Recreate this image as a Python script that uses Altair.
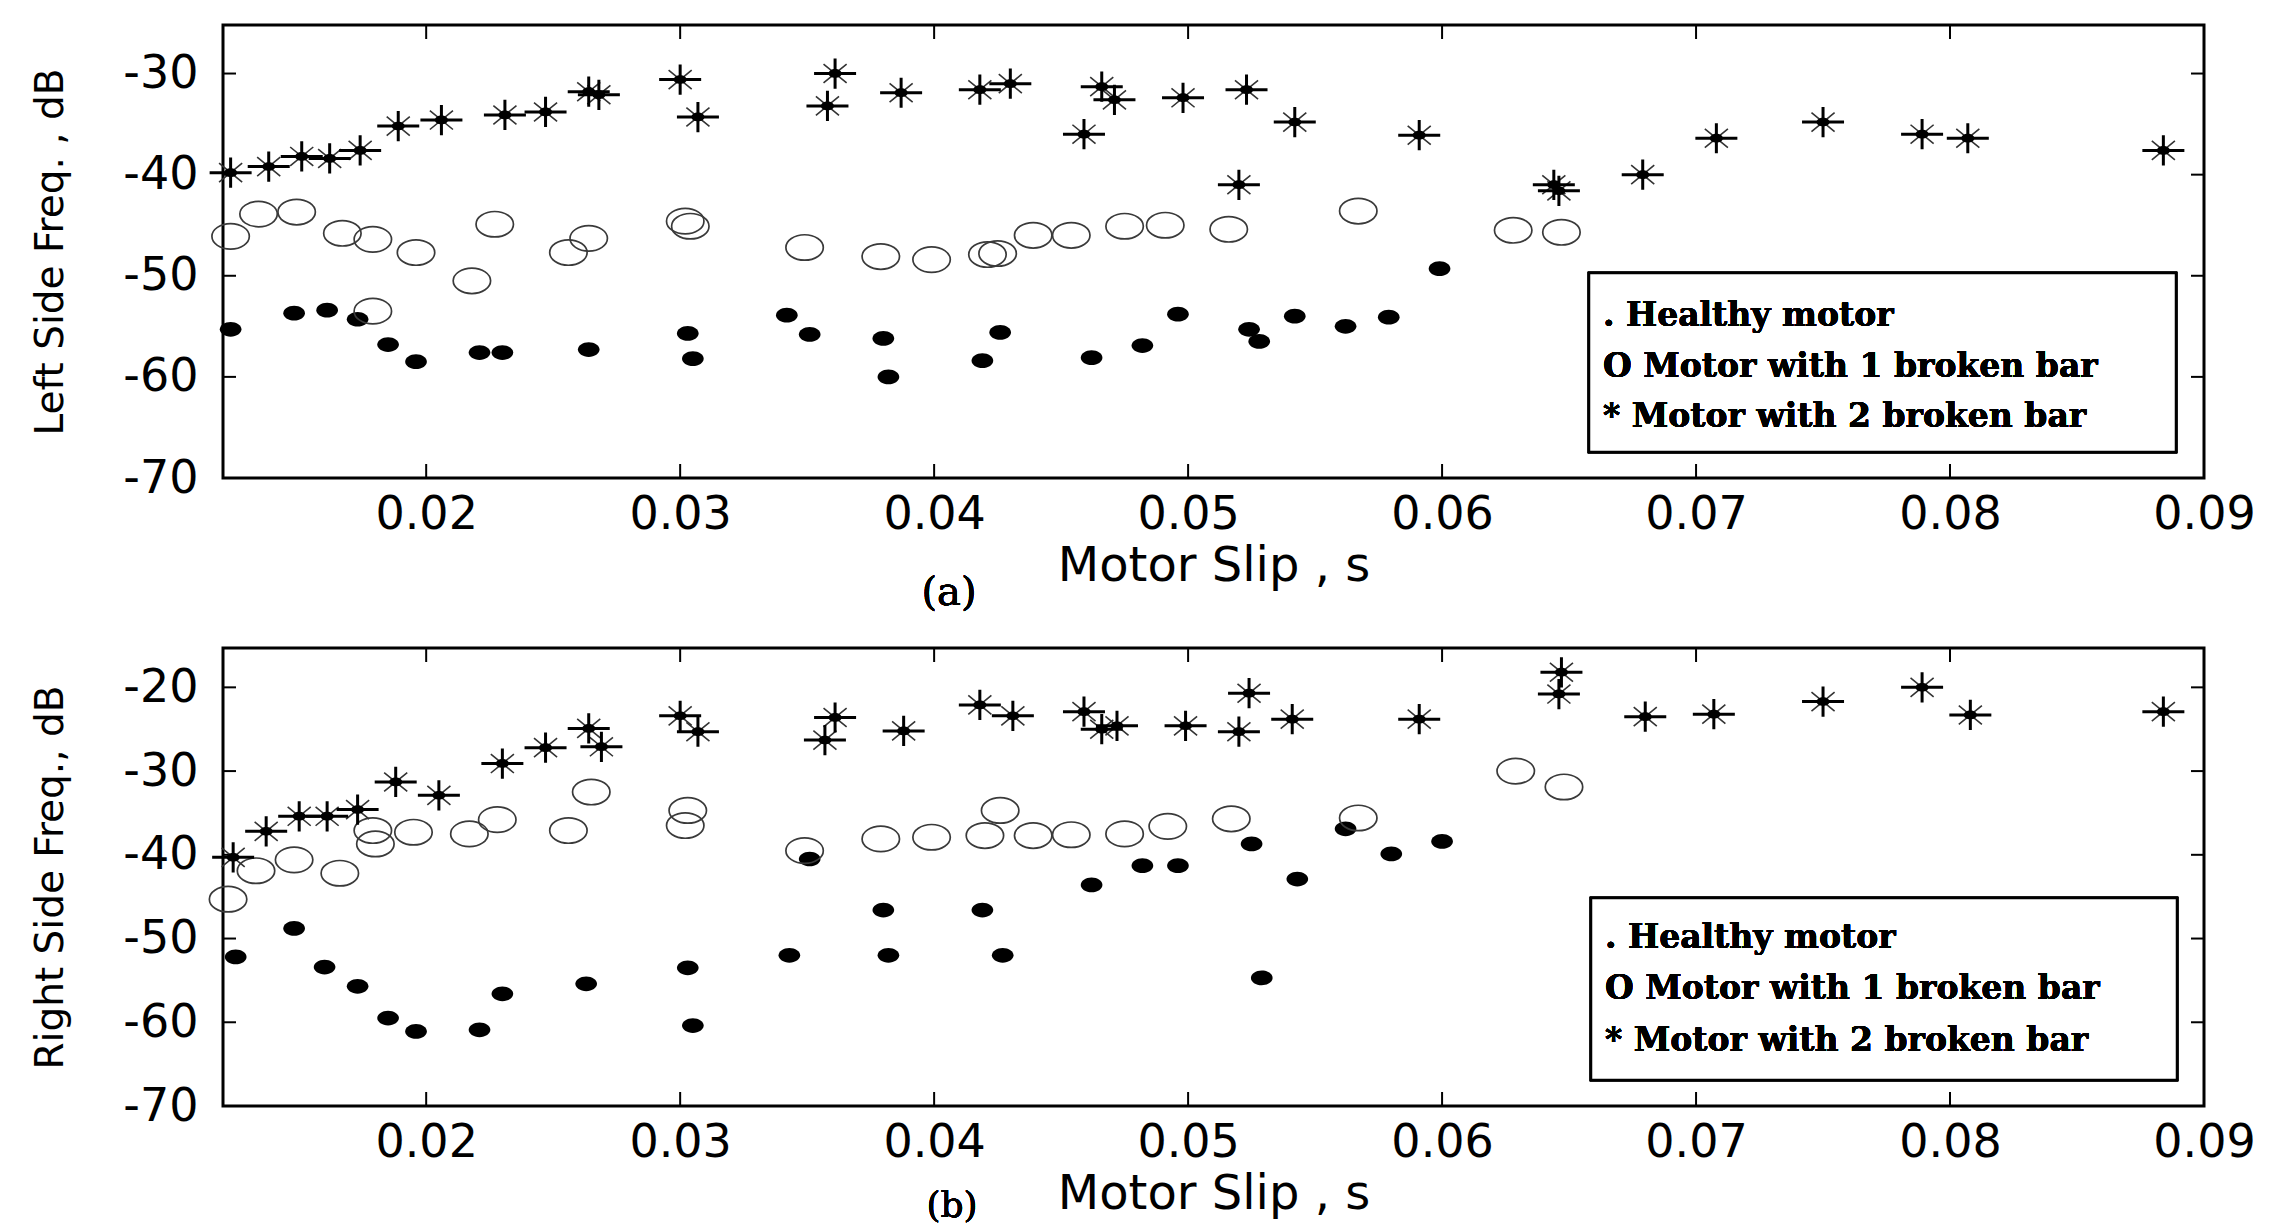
import altair as alt
import pandas as pd

# ---------------- data: panel (a) Left side frequency ----------------
a_healthy_slip = [0.0123, 0.0148, 0.0161, 0.0173, 0.0185, 0.0196, 0.0221, 0.0230, 0.0264,
                  0.0303, 0.0305, 0.0342, 0.0351, 0.0380, 0.0382, 0.0419, 0.0426, 0.0462,
                  0.0482, 0.0496, 0.0524, 0.0528, 0.0542, 0.0562, 0.0579, 0.0599]
a_healthy_db = [-55.3, -53.7, -53.4, -54.3, -56.8, -58.5, -57.6, -57.6, -57.3,
                -55.7, -58.2, -53.9, -55.8, -56.2, -60.0, -58.4, -55.6, -58.1,
                -56.9, -53.8, -55.3, -56.5, -54.0, -55.0, -54.1, -49.3]

a_one_slip = [0.0123, 0.0134, 0.0149, 0.0167, 0.0179, 0.0196, 0.0218, 0.0227, 0.0256,
              0.0264, 0.0179, 0.0302, 0.0304, 0.0349, 0.0379, 0.0399, 0.0421, 0.0425,
              0.0439, 0.0454, 0.0475, 0.0491, 0.0516, 0.0567, 0.0628, 0.0647]
a_one_db = [-46.1, -43.9, -43.7, -45.8, -46.4, -47.7, -50.5, -44.9, -47.7,
            -46.3, -53.5, -44.6, -45.1, -47.2, -48.1, -48.4, -47.9, -47.8,
            -46.0, -46.0, -45.1, -45.0, -45.4, -43.6, -45.5, -45.7]

a_two_slip = [0.0123, 0.0138, 0.0151, 0.0162, 0.0174, 0.0189, 0.0206, 0.0231, 0.0247,
              0.0264, 0.0268, 0.0300, 0.0307, 0.0358, 0.0361, 0.0387, 0.0418, 0.0430,
              0.0459, 0.0466, 0.0471, 0.0498, 0.0520, 0.0523, 0.0542, 0.0591, 0.0644,
              0.0646, 0.0679, 0.0708, 0.0750, 0.0789, 0.0807, 0.0884]
a_two_db = [-39.8, -39.2, -38.2, -38.4, -37.6, -35.2, -34.6, -34.1, -33.8,
            -31.8, -32.1, -30.6, -34.3, -33.2, -30.0, -31.9, -31.6, -31.0,
            -36.0, -31.3, -32.6, -32.4, -41.0, -31.6, -34.8, -36.1, -41.0,
            -41.6, -40.0, -36.4, -34.8, -36.0, -36.4, -37.6]

# ---------------- data: panel (b) Right side frequency ----------------
b_healthy_slip = [0.0125, 0.0148, 0.0160, 0.0173, 0.0185, 0.0196, 0.0221, 0.0230, 0.0263,
                  0.0303, 0.0305, 0.0343, 0.0351, 0.0380, 0.0382, 0.0419, 0.0427, 0.0462,
                  0.0482, 0.0496, 0.0525, 0.0529, 0.0543, 0.0562, 0.0580, 0.0600]
b_healthy_db = [-52.2, -48.8, -53.4, -55.7, -59.5, -61.1, -60.9, -56.6, -55.4,
                -53.5, -60.4, -52.0, -40.5, -46.6, -52.0, -46.6, -52.0, -43.6,
                -41.3, -41.3, -38.7, -54.7, -42.9, -36.9, -39.9, -38.4]

b_one_slip = [0.0122, 0.0133, 0.0148, 0.0166, 0.0179, 0.0180, 0.0195, 0.0217, 0.0228,
              0.0256, 0.0265, 0.0303, 0.0302, 0.0349, 0.0379, 0.0399, 0.0420, 0.0426,
              0.0439, 0.0454, 0.0475, 0.0492, 0.0517, 0.0567, 0.0629, 0.0648]
b_one_db = [-45.3, -41.9, -40.6, -42.2, -37.1, -38.7, -37.3, -37.5, -35.8,
            -37.1, -32.5, -34.7, -36.5, -39.5, -38.1, -37.9, -37.7, -34.7,
            -37.7, -37.6, -37.5, -36.6, -35.7, -35.6, -30.0, -31.9]

b_two_slip = [0.0124, 0.0137, 0.0150, 0.0161, 0.0173, 0.0188, 0.0205, 0.0230, 0.0247,
              0.0264, 0.0269, 0.0300, 0.0307, 0.0357, 0.0361, 0.0388, 0.0418, 0.0431,
              0.0459, 0.0466, 0.0472, 0.0499, 0.0520, 0.0524, 0.0541, 0.0591, 0.0646,
              0.0647, 0.0680, 0.0707, 0.0750, 0.0789, 0.0808, 0.0884]
b_two_db = [-40.3, -37.2, -35.4, -35.4, -34.6, -31.3, -32.9, -29.1, -27.2,
            -24.9, -27.1, -23.4, -25.3, -26.3, -23.6, -25.2, -22.1, -23.4,
            -22.9, -25.0, -24.6, -24.6, -25.3, -20.7, -23.8, -23.8, -20.8,
            -18.2, -23.5, -23.2, -21.7, -20.0, -23.3, -22.9]

# ---------------- axes / text ----------------
x_ticks = [0.02, 0.03, 0.04, 0.05, 0.06, 0.07, 0.08, 0.09]
a_y_ticks = [-30, -40, -50, -60, -70]
b_y_ticks = [-20, -30, -40, -50, -60, -70]
x_domain = [0.012, 0.09]
a_y_domain = [-70, -25.2]
b_y_domain = [-70, -15.3]
x_title = "Motor Slip , s"
a_y_title = "Left Side Freq. , dB"
b_y_title = "Right Side Freq., dB"
panel_labels = ["(a)", "(b)"]
legend_labels = [". Healthy motor", "O Motor with 1 broken bar", "* Motor with 2 broken bar"]

# ---------------- style ----------------
W = 1981
ELLIPSE = "M -1 0 A 1 0.68 0 1 0 1 0 A 1 0.68 0 1 0 -1 0 Z"
PLUS = "M -1 0 L 1 0 M 0 -0.72 L 0 0.72"
CROSS = "M -0.55 -0.45 L 0.55 0.45 M -0.55 0.45 L 0.55 -0.45"
SANS = "DejaVu Sans"
SERIF = "DejaVu Serif"


def panel(h, ydom, yticks, ytitle, healthy, one, two, label, box, text_x, text_ys, label_pos, label_size):
    x_enc = alt.X(
        "x:Q",
        scale=alt.Scale(domain=x_domain, nice=False, zero=False),
        axis=alt.Axis(values=x_ticks, format=".2f", title=x_title, ticks=False, domain=False,
                      grid=False, labelFont=SANS, labelFontSize=46, labelColor="black",
                      labelPadding=14, labelFlush=False, labelOverlap=False,
                      titleFont=SANS, titleFontSize=48, titleFontWeight="normal",
                      titleColor="black", titleY=88, titleBaseline="middle"),
    )
    y_enc = alt.Y(
        "y:Q",
        scale=alt.Scale(domain=ydom, nice=False, zero=False),
        axis=alt.Axis(values=yticks, labelExpr="'' + datum.value", title=ytitle, ticks=False,
                      domain=False, grid=False, labelFont=SANS, labelFontSize=46,
                      labelColor="black", labelPadding=25, labelFlush=False, labelOverlap=False,
                      titleFont=SANS, titleFontSize=39, titleFontWeight="normal",
                      titleColor="black", titleAngle=-90, titleX=-173, titleY=h / 2,
                      titleBaseline="middle", titleAlign="center"),
    )

    df_h = pd.DataFrame({"x": healthy[0], "y": healthy[1]})
    df_o = pd.DataFrame({"x": one[0], "y": one[1]})
    df_t = pd.DataFrame({"x": two[0], "y": two[1]})
    df_xt = pd.DataFrame({"x": x_ticks})
    df_yt = pd.DataFrame({"y": yticks})

    dots = alt.Chart(df_h).mark_point(shape=ELLIPSE, size=470, filled=True, color="black",
                                      opacity=1, strokeWidth=0).encode(x=x_enc, y=y_enc)
    rings = alt.Chart(df_o).mark_point(shape=ELLIPSE, size=1400, filled=False, color="#3a3a3a",
                                       opacity=1, strokeWidth=1.7).encode(x=x_enc, y=y_enc)
    star_plus = alt.Chart(df_t).mark_point(shape=PLUS, size=1764, filled=False, color="black",
                                           opacity=1, strokeWidth=3).encode(x=x_enc, y=y_enc)
    star_cross = alt.Chart(df_t).mark_point(shape=CROSS, size=1764, filled=False, color="#333333",
                                            opacity=1, strokeWidth=1.6).encode(x=x_enc, y=y_enc)
    star_core = alt.Chart(df_t).mark_point(shape=ELLIPSE, size=170, filled=True, color="black",
                                           opacity=1, strokeWidth=0).encode(x=x_enc, y=y_enc)

    tick_style = dict(color="black", strokeWidth=2)
    xt_bot = alt.Chart(df_xt).mark_rule(**tick_style).encode(
        x=x_enc, y=alt.value(h), y2=alt.value(h - 14))
    xt_top = alt.Chart(df_xt).mark_rule(**tick_style).encode(
        x=x_enc, y=alt.value(0), y2=alt.value(14))
    yt_left = alt.Chart(df_yt).mark_rule(**tick_style).encode(
        y=y_enc, x=alt.value(0), x2=alt.value(13))
    yt_right = alt.Chart(df_yt).mark_rule(**tick_style).encode(
        y=y_enc, x=alt.value(W - 13), x2=alt.value(W))

    legend_box = alt.Chart(df_xt).mark_rect(fill="white", stroke="black", strokeWidth=2.5).encode(
        x=alt.value(box[0]), x2=alt.value(box[1]), y=alt.value(box[2]), y2=alt.value(box[3]))
    texts = [
        alt.Chart(df_xt).mark_text(align="left", baseline="alphabetic", font=SERIF, fontSize=33,
                                   fontWeight="bold", color="black").encode(
            x=alt.value(text_x), y=alt.value(ty), text=alt.value(t))
        for t, ty in zip(legend_labels, text_ys)
    ]
    plabel = alt.Chart(df_xt).mark_text(align="center", baseline="middle", font=SERIF,
                                        fontSize=label_size, color="black").encode(
        x=alt.value(label_pos[0]), y=alt.value(label_pos[1]), text=alt.value(label))

    return alt.layer(xt_bot, xt_top, yt_left, yt_right, dots, rings, star_cross, star_plus,
                     star_core, legend_box, *texts, plabel).properties(width=W, height=h)


top = panel(453, a_y_domain, a_y_ticks, a_y_title,
            (a_healthy_slip, a_healthy_db), (a_one_slip, a_one_db), (a_two_slip, a_two_db),
            panel_labels[0], (1366, 1953, 248, 427), 1380, (301, 352, 402), (726, 568), 40)
bottom = panel(458, b_y_domain, b_y_ticks, b_y_title,
               (b_healthy_slip, b_healthy_db), (b_one_slip, b_one_db), (b_two_slip, b_two_db),
               panel_labels[1], (1368, 1954, 250, 432), 1382, (300, 351, 403), (729, 558), 36)

chart = alt.vconcat(top, bottom, spacing=170, bounds="flush").properties(
    padding={"left": 21, "top": 14, "right": 5, "bottom": 2},
    background="white",
).configure_view(stroke="black", strokeWidth=3)

chart.save("out.html", embed_options={"renderer": "svg", "actions": False})
